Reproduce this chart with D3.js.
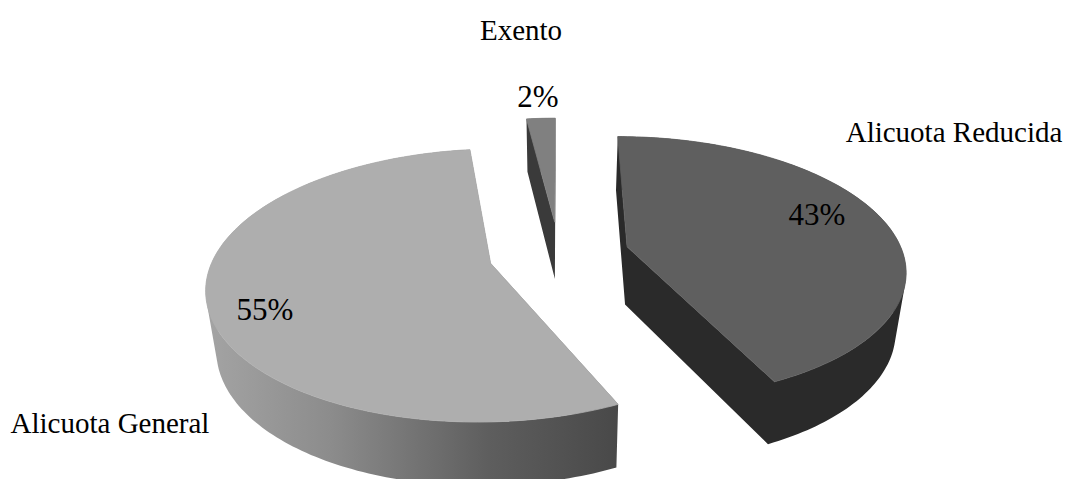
<!DOCTYPE html>
<html>
<head>
<meta charset="utf-8">
<script src="https://cdn.jsdelivr.net/npm/d3@7"></script>
<style>
html,body{margin:0;padding:0;background:#fff;overflow:hidden}
svg{display:block}
text{font-family:"Liberation Serif",serif;fill:#000}
</style>
</head>
<body>
<svg id="c" width="1067" height="479"></svg>
<script>
// Data
const categories = ["Alicuota Reducida", "Alicuota General", "Exento"];
const shares = [43, 55, 2];
const shareLabels = ["43%", "55%", "2%"];

// Styling, per category
const topColors = ["#5f5f5f", "#aeaeae", "#808080"];
const wallColors = ["#2a2a2a", "url(#wallGrad)", "#3a3a3a"];

// Layout of the perspective pie
const W = 1067, H = 479;
const explode = 0.255, persp = 0.16, depth = 58, shrink = 0.03;
const sx = d3.scaleLinear().domain([-1, 1]).range([283, 835]);
const sy = d3.scaleLinear().domain([-1, 1]).range([384, 124]);

function project(U, V, lowered) {
  const w = 1 + persp * V;
  const x0 = sx(0), y0 = sy(0);
  let X = x0 + (sx(U) - x0) / w;
  let Y = y0 + (sy(V) - y0) / w;
  if (lowered) {
    X = x0 + (X - x0) * (1 - shrink);
    Y += depth / Math.sqrt(w);
  }
  return [X, Y];
}

const svg = d3.select("#c").attr("viewBox", [0, 0, W, H]);
const grad = svg.append("defs").append("linearGradient")
  .attr("id", "wallGrad").attr("gradientUnits", "userSpaceOnUse")
  .attr("x1", 205).attr("x2", 622).attr("y1", 0).attr("y2", 0);
[[0, "#a4a4a4"], [0.3, "#8c8c8c"], [0.68, "#5e5e5e"], [1, "#484848"]]
  .forEach(([o, c]) => grad.append("stop").attr("offset", o).attr("stop-color", c));

const pie = d3.pie().sort(null).value(d => d)(shares);
const line = d3.line();

function slicePoints(a0, a1, mid, lowered) {
  const ox = explode * Math.sin(mid), oy = explode * Math.cos(mid);
  const steps = Math.max(2, Math.ceil((a1 - a0) / 0.02));
  return {
    apex: project(ox, oy, lowered),
    arc: d3.range(steps + 1).map(i => {
      const a = a0 + (a1 - a0) * i / steps;
      return project(ox + Math.sin(a), oy + Math.cos(a), lowered);
    })
  };
}

// All quads wound the same way, so they add up under the nonzero fill rule
const quad = pts => line(d3.polygonArea(pts) < 0 ? pts.slice().reverse() : pts) + "Z";

const layer = svg.append("g");
pie.forEach((d, i) => {
  const mid = (d.startAngle + d.endAngle) / 2;
  const top = slicePoints(d.startAngle, d.endAngle, mid, false);
  const bot = slicePoints(d.startAngle, d.endAngle, mid, true);
  const g = layer.append("g").attr("class", "slice");
  const last = top.arc.length - 1;
  // walls: both cut faces plus the arc steps, in one path so there are no seams
  const walls = [
    quad([top.apex, top.arc[0], bot.arc[0], bot.apex]),
    quad([top.apex, top.arc[last], bot.arc[last], bot.apex]),
    ...d3.range(last).map(k => quad([top.arc[k], top.arc[k + 1], bot.arc[k + 1], bot.arc[k]]))
  ].join("");
  g.append("path").attr("d", walls).attr("fill", wallColors[i]);
  // top face
  g.append("path").attr("d", line([top.apex, ...top.arc]) + "Z")
    .attr("fill", topColors[i]).attr("stroke", topColors[i]).attr("stroke-width", 0.8);
});

// Text
const catSize = 29, valSize = 31;
const catPos = [[954, 142], [110, 433], [521, 40]];
const valPos = [[817, 225], [265, 320], [538, 107]];
svg.append("g").selectAll("text").data(categories).join("text")
  .attr("x", (d, i) => catPos[i][0]).attr("y", (d, i) => catPos[i][1])
  .attr("text-anchor", "middle").attr("font-size", catSize).text(d => d);
svg.append("g").selectAll("text").data(shareLabels).join("text")
  .attr("x", (d, i) => valPos[i][0]).attr("y", (d, i) => valPos[i][1])
  .attr("text-anchor", "middle").attr("font-size", valSize).text(d => d);
</script>
</body>
</html>
